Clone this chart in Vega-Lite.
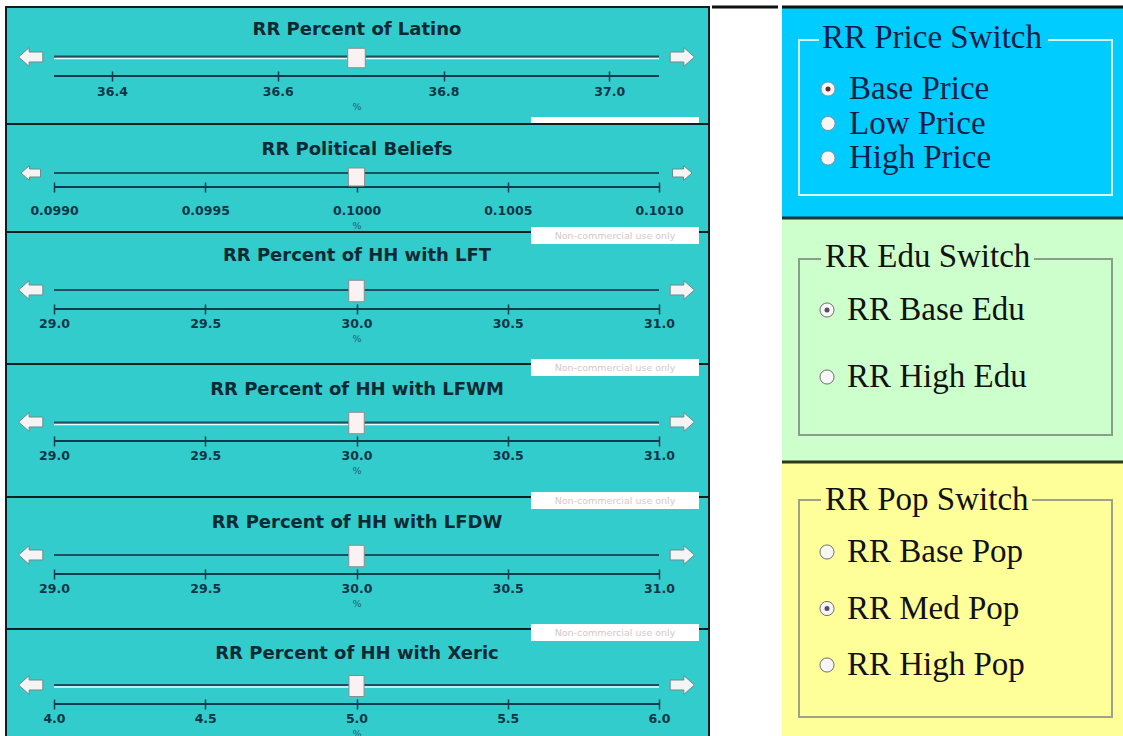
{
  "$schema": "https://vega.github.io/schema/vega-lite/v6.json",
  "padding": {"left": 5, "top": 5, "right": 0, "bottom": 0},
  "background": "white",
  "spacing": 0,
  "hconcat": [
    {
      "spacing": 0,
      "bounds": "flush",
      "vconcat": [
        {
          "width": 703, "height": 117,
          "view": {"fill": "#33CCCC", "stroke": "#0d1f1f", "strokeWidth": 2},
          "data": {"values": [{"name": "RR Percent of Latino", "lo": 36.33, "hi": 37.06, "value": 36.695}]},
          "layer": [
            {"mark": {"type": "rule", "color": "#0f3c4c", "strokeWidth": 2},
             "encoding": {"x": {"field": "lo", "type": "quantitative", "scale": {"domain": [36.33, 37.06], "range": [48, 653], "nice": false, "zero": false},
                                "axis": {"values": [36.4, 36.6, 36.8, 37.0], "format": ".1f", "title": "%", "offset": -53, "labelPadding": 4}},
                          "x2": {"field": "hi"}, "y": {"value": 69}}},
            {"mark": {"type": "rule", "color": "#e6ffff", "strokeWidth": 1.5}, "encoding": {"x": {"field": "lo", "type": "quantitative"}, "x2": {"field": "hi"}, "y": {"value": 51.5}}},
            {"mark": {"type": "rule", "color": "#1f5060", "strokeWidth": 2}, "encoding": {"x": {"field": "lo", "type": "quantitative"}, "x2": {"field": "hi"}, "y": {"value": 49.5}}},
            {"mark": {"type": "point", "filled": true, "shape": "M -1 0 L -0.15 -0.75 L -0.15 -0.4 L 0.95 -0.4 L 0.95 0.4 L -0.15 0.4 L -0.15 0.75 Z", "size": 620, "fill": "#f4f4f4", "stroke": "#6f8a8a", "strokeWidth": 1, "opacity": 1, "xOffset": -23},
             "encoding": {"x": {"field": "lo", "type": "quantitative"}, "y": {"value": 50}}},
            {"mark": {"type": "point", "filled": true, "shape": "M 1 0 L 0.15 -0.75 L 0.15 -0.4 L -0.95 -0.4 L -0.95 0.4 L 0.15 0.4 L 0.15 0.75 Z", "size": 620, "fill": "#f4f4f4", "stroke": "#6f8a8a", "strokeWidth": 1, "opacity": 1, "xOffset": 23},
             "encoding": {"x": {"field": "hi", "type": "quantitative"}, "y": {"value": 50}}},
            {"mark": {"type": "point", "filled": true, "shape": "M -0.45 -0.5 L 0.45 -0.5 L 0.45 0.5 L -0.45 0.5 Z", "size": 1521, "fill": "#faf2f2", "stroke": "#8c8c8c", "strokeWidth": 1, "opacity": 1},
             "encoding": {"x": {"field": "value", "type": "quantitative"}, "y": {"value": 51}}},
            {"mark": {"type": "text", "font": "DejaVu Sans", "fontWeight": "bold", "fontSize": 18, "color": "#0a2a33", "baseline": "middle", "align": "center"},
             "encoding": {"x": {"value": 351}, "y": {"value": 23}, "text": {"field": "name"}}}
          ]
        },
        {
          "width": 703, "height": 108,
          "view": {"fill": "#33CCCC", "stroke": "#0d1f1f", "strokeWidth": 2},
          "data": {"values": [{"name": "RR  Political  Beliefs", "lo": 0.099, "hi": 0.101, "value": 0.1}]},
          "layer": [
            {"mark": {"type": "rule", "color": "#0f3c4c", "strokeWidth": 2},
             "encoding": {"x": {"field": "lo", "type": "quantitative", "scale": {"domain": [0.099, 0.101], "range": [48, 653], "nice": false, "zero": false},
                                "axis": {"values": [0.099, 0.0995, 0.1, 0.1005, 0.101], "format": ".4f", "title": "%", "offset": -50, "labelPadding": 12}},
                          "x2": {"field": "hi"}, "y": {"value": 63}}},
            {"mark": {"type": "rule", "color": "#1f5060", "strokeWidth": 2}, "encoding": {"x": {"field": "lo", "type": "quantitative"}, "x2": {"field": "hi"}, "y": {"value": 49}}},
            {"mark": {"type": "point", "filled": true, "shape": "M -1 0 L -0.15 -0.75 L -0.15 -0.4 L 0.95 -0.4 L 0.95 0.4 L -0.15 0.4 L -0.15 0.75 Z", "size": 400, "fill": "#f4f4f4", "stroke": "#6f8a8a", "strokeWidth": 1, "opacity": 1, "xOffset": -23},
             "encoding": {"x": {"field": "lo", "type": "quantitative"}, "y": {"value": 49}}},
            {"mark": {"type": "point", "filled": true, "shape": "M 1 0 L 0.15 -0.75 L 0.15 -0.4 L -0.95 -0.4 L -0.95 0.4 L 0.15 0.4 L 0.15 0.75 Z", "size": 400, "fill": "#f4f4f4", "stroke": "#6f8a8a", "strokeWidth": 1, "opacity": 1, "xOffset": 23},
             "encoding": {"x": {"field": "hi", "type": "quantitative"}, "y": {"value": 49}}},
            {"mark": {"type": "point", "filled": true, "shape": "M -0.45 -0.5 L 0.45 -0.5 L 0.45 0.5 L -0.45 0.5 Z", "size": 1296, "fill": "#faf2f2", "stroke": "#8c8c8c", "strokeWidth": 1, "opacity": 1},
             "encoding": {"x": {"field": "value", "type": "quantitative"}, "y": {"value": 53}}},
            {"mark": {"type": "rect", "fill": "white"}, "encoding": {"x": {"value": 525}, "x2": {"value": 693}, "y": {"value": -7}, "y2": {"value": -1}}},
            {"mark": {"type": "text", "font": "DejaVu Sans", "fontWeight": "bold", "fontSize": 18, "color": "#0a2a33", "baseline": "middle", "align": "center"},
             "encoding": {"x": {"value": 351}, "y": {"value": 26}, "text": {"field": "name"}}}
          ]
        },
        {
          "width": 703, "height": 132,
          "view": {"fill": "#33CCCC", "stroke": "#0d1f1f", "strokeWidth": 2},
          "data": {"values": [{"name": "RR Percent of HH with LFT", "lo": 29.0, "hi": 31.0, "value": 30.0}]},
          "layer": [
            {"mark": {"type": "rule", "color": "#0f3c4c", "strokeWidth": 2},
             "encoding": {"x": {"field": "lo", "type": "quantitative", "scale": {"domain": [29, 31], "range": [48, 653], "nice": false, "zero": false},
                                "axis": {"values": [29, 29.5, 30, 30.5, 31], "format": ".1f", "title": "%", "offset": -60, "labelPadding": 3}},
                          "x2": {"field": "hi"}, "y": {"value": 77}}},
            {"mark": {"type": "rule", "color": "#1f5060", "strokeWidth": 2}, "encoding": {"x": {"field": "lo", "type": "quantitative"}, "x2": {"field": "hi"}, "y": {"value": 58}}},
            {"mark": {"type": "point", "filled": true, "shape": "M -1 0 L -0.15 -0.75 L -0.15 -0.4 L 0.95 -0.4 L 0.95 0.4 L -0.15 0.4 L -0.15 0.75 Z", "size": 620, "fill": "#f4f4f4", "stroke": "#6f8a8a", "strokeWidth": 1, "opacity": 1, "xOffset": -23},
             "encoding": {"x": {"field": "lo", "type": "quantitative"}, "y": {"value": 58}}},
            {"mark": {"type": "point", "filled": true, "shape": "M 1 0 L 0.15 -0.75 L 0.15 -0.4 L -0.95 -0.4 L -0.95 0.4 L 0.15 0.4 L 0.15 0.75 Z", "size": 620, "fill": "#f4f4f4", "stroke": "#6f8a8a", "strokeWidth": 1, "opacity": 1, "xOffset": 23},
             "encoding": {"x": {"field": "hi", "type": "quantitative"}, "y": {"value": 58}}},
            {"mark": {"type": "point", "filled": true, "shape": "M -0.36 -0.5 L 0.36 -0.5 L 0.36 0.5 L -0.36 0.5 Z", "size": 1849, "fill": "#faf2f2", "stroke": "#8c8c8c", "strokeWidth": 1, "opacity": 1},
             "encoding": {"x": {"field": "value", "type": "quantitative"}, "y": {"value": 59}}},
            {"mark": {"type": "rect", "fill": "white"}, "encoding": {"x": {"value": 525}, "x2": {"value": 693}, "y": {"value": -5}, "y2": {"value": 12}}},
            {"mark": {"type": "text", "font": "DejaVu Sans", "fontSize": 9.5, "color": "#d8c6c6", "baseline": "middle", "align": "center"},
             "encoding": {"x": {"value": 609}, "y": {"value": 3.5}, "text": {"value": "Non-commercial use only"}}},
            {"mark": {"type": "text", "font": "DejaVu Sans", "fontWeight": "bold", "fontSize": 18, "color": "#0a2a33", "baseline": "middle", "align": "center"},
             "encoding": {"x": {"value": 351}, "y": {"value": 24}, "text": {"field": "name"}}}
          ]
        },
        {
          "width": 703, "height": 133,
          "view": {"fill": "#33CCCC", "stroke": "#0d1f1f", "strokeWidth": 2},
          "data": {"values": [{"name": "RR Percent of HH with LFWM", "lo": 29.0, "hi": 31.0, "value": 30.0}]},
          "layer": [
            {"mark": {"type": "rule", "color": "#0f3c4c", "strokeWidth": 2},
             "encoding": {"x": {"field": "lo", "type": "quantitative", "scale": {"domain": [29, 31], "range": [48, 653], "nice": false, "zero": false},
                                "axis": {"values": [29, 29.5, 30, 30.5, 31], "format": ".1f", "title": "%", "offset": -61, "labelPadding": 3}},
                          "x2": {"field": "hi"}, "y": {"value": 77}}},
            {"mark": {"type": "rule", "color": "#e6ffff", "strokeWidth": 1.5}, "encoding": {"x": {"field": "lo", "type": "quantitative"}, "x2": {"field": "hi"}, "y": {"value": 60.5}}},
            {"mark": {"type": "rule", "color": "#1f5060", "strokeWidth": 2}, "encoding": {"x": {"field": "lo", "type": "quantitative"}, "x2": {"field": "hi"}, "y": {"value": 58.5}}},
            {"mark": {"type": "point", "filled": true, "shape": "M -1 0 L -0.15 -0.75 L -0.15 -0.4 L 0.95 -0.4 L 0.95 0.4 L -0.15 0.4 L -0.15 0.75 Z", "size": 620, "fill": "#f4f4f4", "stroke": "#6f8a8a", "strokeWidth": 1, "opacity": 1, "xOffset": -23},
             "encoding": {"x": {"field": "lo", "type": "quantitative"}, "y": {"value": 58}}},
            {"mark": {"type": "point", "filled": true, "shape": "M 1 0 L 0.15 -0.75 L 0.15 -0.4 L -0.95 -0.4 L -0.95 0.4 L 0.15 0.4 L 0.15 0.75 Z", "size": 620, "fill": "#f4f4f4", "stroke": "#6f8a8a", "strokeWidth": 1, "opacity": 1, "xOffset": 23},
             "encoding": {"x": {"field": "hi", "type": "quantitative"}, "y": {"value": 58}}},
            {"mark": {"type": "point", "filled": true, "shape": "M -0.36 -0.5 L 0.36 -0.5 L 0.36 0.5 L -0.36 0.5 Z", "size": 1849, "fill": "#faf2f2", "stroke": "#8c8c8c", "strokeWidth": 1, "opacity": 1},
             "encoding": {"x": {"field": "value", "type": "quantitative"}, "y": {"value": 59}}},
            {"mark": {"type": "rect", "fill": "white"}, "encoding": {"x": {"value": 525}, "x2": {"value": 693}, "y": {"value": -5}, "y2": {"value": 12}}},
            {"mark": {"type": "text", "font": "DejaVu Sans", "fontSize": 9.5, "color": "#d8c6c6", "baseline": "middle", "align": "center"},
             "encoding": {"x": {"value": 609}, "y": {"value": 3.5}, "text": {"value": "Non-commercial use only"}}},
            {"mark": {"type": "text", "font": "DejaVu Sans", "fontWeight": "bold", "fontSize": 18, "color": "#0a2a33", "baseline": "middle", "align": "center"},
             "encoding": {"x": {"value": 351}, "y": {"value": 26}, "text": {"field": "name"}}}
          ]
        },
        {
          "width": 703, "height": 132,
          "view": {"fill": "#33CCCC", "stroke": "#0d1f1f", "strokeWidth": 2},
          "data": {"values": [{"name": "RR Percent of HH with LFDW", "lo": 29.0, "hi": 31.0, "value": 30.0}]},
          "layer": [
            {"mark": {"type": "rule", "color": "#0f3c4c", "strokeWidth": 2},
             "encoding": {"x": {"field": "lo", "type": "quantitative", "scale": {"domain": [29, 31], "range": [48, 653], "nice": false, "zero": false},
                                "axis": {"values": [29, 29.5, 30, 30.5, 31], "format": ".1f", "title": "%", "offset": -60, "labelPadding": 3}},
                          "x2": {"field": "hi"}, "y": {"value": 77}}},
            {"mark": {"type": "rule", "color": "#1f5060", "strokeWidth": 2}, "encoding": {"x": {"field": "lo", "type": "quantitative"}, "x2": {"field": "hi"}, "y": {"value": 58}}},
            {"mark": {"type": "point", "filled": true, "shape": "M -1 0 L -0.15 -0.75 L -0.15 -0.4 L 0.95 -0.4 L 0.95 0.4 L -0.15 0.4 L -0.15 0.75 Z", "size": 620, "fill": "#f4f4f4", "stroke": "#6f8a8a", "strokeWidth": 1, "opacity": 1, "xOffset": -23},
             "encoding": {"x": {"field": "lo", "type": "quantitative"}, "y": {"value": 58}}},
            {"mark": {"type": "point", "filled": true, "shape": "M 1 0 L 0.15 -0.75 L 0.15 -0.4 L -0.95 -0.4 L -0.95 0.4 L 0.15 0.4 L 0.15 0.75 Z", "size": 620, "fill": "#f4f4f4", "stroke": "#6f8a8a", "strokeWidth": 1, "opacity": 1, "xOffset": 23},
             "encoding": {"x": {"field": "hi", "type": "quantitative"}, "y": {"value": 58}}},
            {"mark": {"type": "point", "filled": true, "shape": "M -0.36 -0.5 L 0.36 -0.5 L 0.36 0.5 L -0.36 0.5 Z", "size": 1849, "fill": "#faf2f2", "stroke": "#8c8c8c", "strokeWidth": 1, "opacity": 1},
             "encoding": {"x": {"field": "value", "type": "quantitative"}, "y": {"value": 59}}},
            {"mark": {"type": "rect", "fill": "white"}, "encoding": {"x": {"value": 525}, "x2": {"value": 693}, "y": {"value": -5}, "y2": {"value": 12}}},
            {"mark": {"type": "text", "font": "DejaVu Sans", "fontSize": 9.5, "color": "#d8c6c6", "baseline": "middle", "align": "center"},
             "encoding": {"x": {"value": 609}, "y": {"value": 3.5}, "text": {"value": "Non-commercial use only"}}},
            {"mark": {"type": "text", "font": "DejaVu Sans", "fontWeight": "bold", "fontSize": 18, "color": "#0a2a33", "baseline": "middle", "align": "center"},
             "encoding": {"x": {"value": 351}, "y": {"value": 26}, "text": {"field": "name"}}}
          ]
        },
        {
          "width": 703, "height": 109,
          "view": {"fill": "#33CCCC", "stroke": "#0d1f1f", "strokeWidth": 2},
          "data": {"values": [{"name": "RR Percent of HH with Xeric", "lo": 4.0, "hi": 6.0, "value": 5.0}]},
          "layer": [
            {"mark": {"type": "rule", "color": "#0f3c4c", "strokeWidth": 2},
             "encoding": {"x": {"field": "lo", "type": "quantitative", "scale": {"domain": [4, 6], "range": [48, 653], "nice": false, "zero": false},
                                "axis": {"values": [4, 4.5, 5, 5.5, 6], "format": ".1f", "title": "%", "offset": -39, "labelPadding": 3}},
                          "x2": {"field": "hi"}, "y": {"value": 75}}},
            {"mark": {"type": "rule", "color": "#e6ffff", "strokeWidth": 1.5}, "encoding": {"x": {"field": "lo", "type": "quantitative"}, "x2": {"field": "hi"}, "y": {"value": 58}}},
            {"mark": {"type": "rule", "color": "#1f5060", "strokeWidth": 2}, "encoding": {"x": {"field": "lo", "type": "quantitative"}, "x2": {"field": "hi"}, "y": {"value": 56}}},
            {"mark": {"type": "point", "filled": true, "shape": "M -1 0 L -0.15 -0.75 L -0.15 -0.4 L 0.95 -0.4 L 0.95 0.4 L -0.15 0.4 L -0.15 0.75 Z", "size": 620, "fill": "#f4f4f4", "stroke": "#6f8a8a", "strokeWidth": 1, "opacity": 1, "xOffset": -23},
             "encoding": {"x": {"field": "lo", "type": "quantitative"}, "y": {"value": 56}}},
            {"mark": {"type": "point", "filled": true, "shape": "M 1 0 L 0.15 -0.75 L 0.15 -0.4 L -0.95 -0.4 L -0.95 0.4 L 0.15 0.4 L 0.15 0.75 Z", "size": 620, "fill": "#f4f4f4", "stroke": "#6f8a8a", "strokeWidth": 1, "opacity": 1, "xOffset": 23},
             "encoding": {"x": {"field": "hi", "type": "quantitative"}, "y": {"value": 56}}},
            {"mark": {"type": "point", "filled": true, "shape": "M -0.36 -0.5 L 0.36 -0.5 L 0.36 0.5 L -0.36 0.5 Z", "size": 1764, "fill": "#faf2f2", "stroke": "#8c8c8c", "strokeWidth": 1, "opacity": 1},
             "encoding": {"x": {"field": "value", "type": "quantitative"}, "y": {"value": 57}}},
            {"mark": {"type": "rect", "fill": "white"}, "encoding": {"x": {"value": 525}, "x2": {"value": 693}, "y": {"value": -5}, "y2": {"value": 12}}},
            {"mark": {"type": "text", "font": "DejaVu Sans", "fontSize": 9.5, "color": "#d8c6c6", "baseline": "middle", "align": "center"},
             "encoding": {"x": {"value": 609}, "y": {"value": 3.5}, "text": {"value": "Non-commercial use only"}}},
            {"mark": {"type": "text", "font": "DejaVu Sans", "fontWeight": "bold", "fontSize": 18, "color": "#0a2a33", "baseline": "middle", "align": "center"},
             "encoding": {"x": {"value": 351}, "y": {"value": 25}, "text": {"field": "name"}}}
          ]
        }
      ]
    },
    {
      "width": 66, "height": 731,
      "view": {"fill": "white", "stroke": null},
      "data": {"values": [{}]},
      "mark": {"type": "rule", "color": "#111111", "strokeWidth": 3},
      "encoding": {"y": {"value": 0}}
    },
    {
      "spacing": 0,
      "bounds": "flush",
      "vconcat": [
        {
          "width": 341, "height": 211,
          "view": {"fill": "#00CCFF", "stroke": null},
          "data": {"values": [{"label": "Base Price", "selected": true}, {"label": "Low Price", "selected": false}, {"label": "High Price", "selected": false}]},
          "layer": [
            {"data": {"values": [{"title": "RR Price Switch"}]}, "mark": {"type": "rule", "color": "#111111", "strokeWidth": 3}, "encoding": {"y": {"value": 0}}},
            {"data": {"values": [{"title": "RR Price Switch"}]}, "mark": {"type": "rect", "filled": false, "stroke": "#d6fbff", "strokeWidth": 2},
             "encoding": {"x": {"value": 17}, "x2": {"value": 330}, "y": {"value": 33}, "y2": {"value": 188}}},
            {"data": {"values": [{"title": "RR Price Switch"}]}, "mark": {"type": "rect", "fill": "#00CCFF"},
             "encoding": {"x": {"value": 37}, "x2": {"value": 266}, "y": {"value": 28}, "y2": {"value": 38}}},
            {"data": {"values": [{"title": "RR Price Switch"}]}, "mark": {"type": "text", "font": "Liberation Serif", "fontSize": 33, "color": "#0d1d45", "align": "left", "baseline": "alphabetic"},
             "encoding": {"x": {"value": 40}, "y": {"value": 41}, "text": {"field": "title"}}},
            {"mark": {"type": "point", "shape": "circle", "filled": true, "size": 200, "fill": "#f6f6f6", "stroke": "#8090a0", "strokeWidth": 1, "opacity": 1, "yOffset": -10},
             "encoding": {"x": {"value": 46}, "y": {"field": "label", "type": "nominal", "sort": null, "scale": {"type": "point", "range": [92, 161], "padding": 0}, "axis": null}}},
            {"transform": [{"filter": "datum.selected"}], "mark": {"type": "point", "shape": "circle", "filled": true, "size": 25, "color": "#6a2a2a", "opacity": 1, "yOffset": -10},
             "encoding": {"x": {"value": 46}, "y": {"field": "label", "type": "nominal", "sort": null}}},
            {"mark": {"type": "text", "font": "Liberation Serif", "fontSize": 33, "color": "#0d1d45", "align": "left", "baseline": "alphabetic"},
             "encoding": {"x": {"value": 67}, "y": {"field": "label", "type": "nominal", "sort": null}, "text": {"field": "label"}}}
          ]
        },
        {
          "width": 341, "height": 244,
          "view": {"fill": "#CCFFCC", "stroke": null},
          "data": {"values": [{"label": "RR Base Edu", "selected": true}, {"label": "RR High Edu", "selected": false}]},
          "layer": [
            {"data": {"values": [{"title": "RR Edu Switch"}]}, "mark": {"type": "rule", "color": "#1d3535", "strokeWidth": 3}, "encoding": {"y": {"value": 0}}},
            {"data": {"values": [{"title": "RR Edu Switch"}]}, "mark": {"type": "rect", "filled": false, "stroke": "#8c9c8c", "strokeWidth": 2},
             "encoding": {"x": {"value": 17}, "x2": {"value": 330}, "y": {"value": 41}, "y2": {"value": 217}}},
            {"data": {"values": [{"title": "RR Edu Switch"}]}, "mark": {"type": "rect", "fill": "#CCFFCC"},
             "encoding": {"x": {"value": 39}, "x2": {"value": 252}, "y": {"value": 36}, "y2": {"value": 46}}},
            {"data": {"values": [{"title": "RR Edu Switch"}]}, "mark": {"type": "text", "font": "Liberation Serif", "fontSize": 33, "color": "#111111", "align": "left", "baseline": "alphabetic"},
             "encoding": {"x": {"value": 43}, "y": {"value": 49}, "text": {"field": "title"}}},
            {"mark": {"type": "point", "shape": "circle", "filled": true, "size": 200, "fill": "#f6f6f6", "stroke": "#707070", "strokeWidth": 1, "opacity": 1, "yOffset": -10},
             "encoding": {"x": {"value": 45}, "y": {"field": "label", "type": "nominal", "sort": null, "scale": {"type": "point", "range": [102, 169], "padding": 0}, "axis": null}}},
            {"transform": [{"filter": "datum.selected"}], "mark": {"type": "point", "shape": "circle", "filled": true, "size": 25, "color": "#5a4a6a", "opacity": 1, "yOffset": -10},
             "encoding": {"x": {"value": 45}, "y": {"field": "label", "type": "nominal", "sort": null}}},
            {"mark": {"type": "text", "font": "Liberation Serif", "fontSize": 33, "color": "#111111", "align": "left", "baseline": "alphabetic"},
             "encoding": {"x": {"value": 65}, "y": {"field": "label", "type": "nominal", "sort": null}, "text": {"field": "label"}}}
          ]
        },
        {
          "width": 341, "height": 276,
          "view": {"fill": "#FFFF99", "stroke": null},
          "data": {"values": [{"label": "RR Base Pop", "selected": false}, {"label": "RR Med Pop", "selected": true}, {"label": "RR High Pop", "selected": false}]},
          "layer": [
            {"data": {"values": [{"title": "RR Pop Switch"}]}, "mark": {"type": "rule", "color": "#2a3a1a", "strokeWidth": 3}, "encoding": {"y": {"value": 0}}},
            {"data": {"values": [{"title": "RR Pop Switch"}]}, "mark": {"type": "rect", "filled": false, "stroke": "#a0a08c", "strokeWidth": 2},
             "encoding": {"x": {"value": 17}, "x2": {"value": 330}, "y": {"value": 38}, "y2": {"value": 255}}},
            {"data": {"values": [{"title": "RR Pop Switch"}]}, "mark": {"type": "rect", "fill": "#FFFF99"},
             "encoding": {"x": {"value": 39}, "x2": {"value": 250}, "y": {"value": 33}, "y2": {"value": 43}}},
            {"data": {"values": [{"title": "RR Pop Switch"}]}, "mark": {"type": "text", "font": "Liberation Serif", "fontSize": 33, "color": "#111111", "align": "left", "baseline": "alphabetic"},
             "encoding": {"x": {"value": 43}, "y": {"value": 48}, "text": {"field": "title"}}},
            {"mark": {"type": "point", "shape": "circle", "filled": true, "size": 200, "fill": "#f6f6f6", "stroke": "#707070", "strokeWidth": 1, "opacity": 1, "yOffset": -10},
             "encoding": {"x": {"value": 45}, "y": {"field": "label", "type": "nominal", "sort": null, "scale": {"type": "point", "range": [100, 213], "padding": 0}, "axis": null}}},
            {"transform": [{"filter": "datum.selected"}], "mark": {"type": "point", "shape": "circle", "filled": true, "size": 25, "color": "#5a4a6a", "opacity": 1, "yOffset": -10},
             "encoding": {"x": {"value": 45}, "y": {"field": "label", "type": "nominal", "sort": null}}},
            {"mark": {"type": "text", "font": "Liberation Serif", "fontSize": 33, "color": "#111111", "align": "left", "baseline": "alphabetic"},
             "encoding": {"x": {"value": 65}, "y": {"field": "label", "type": "nominal", "sort": null}, "text": {"field": "label"}}}
          ]
        }
      ]
    }
  ],
  "config": {
    "view": {"stroke": null},
    "axisX": {
      "domain": false, "grid": false, "ticks": true,
      "tickColor": "#0f3c4c", "tickWidth": 1.5, "tickSize": 10,
      "labelFont": "DejaVu Sans", "labelFontSize": 12.5, "labelFontWeight": "bold", "labelColor": "#0b3545",
      "labelFlush": false, "labelOverlap": false, "labelBound": false,
      "titleFont": "DejaVu Sans", "titleFontSize": 9.5, "titleFontWeight": "normal", "titleColor": "#1d5f6f", "titlePadding": 4
    }
  }
}
